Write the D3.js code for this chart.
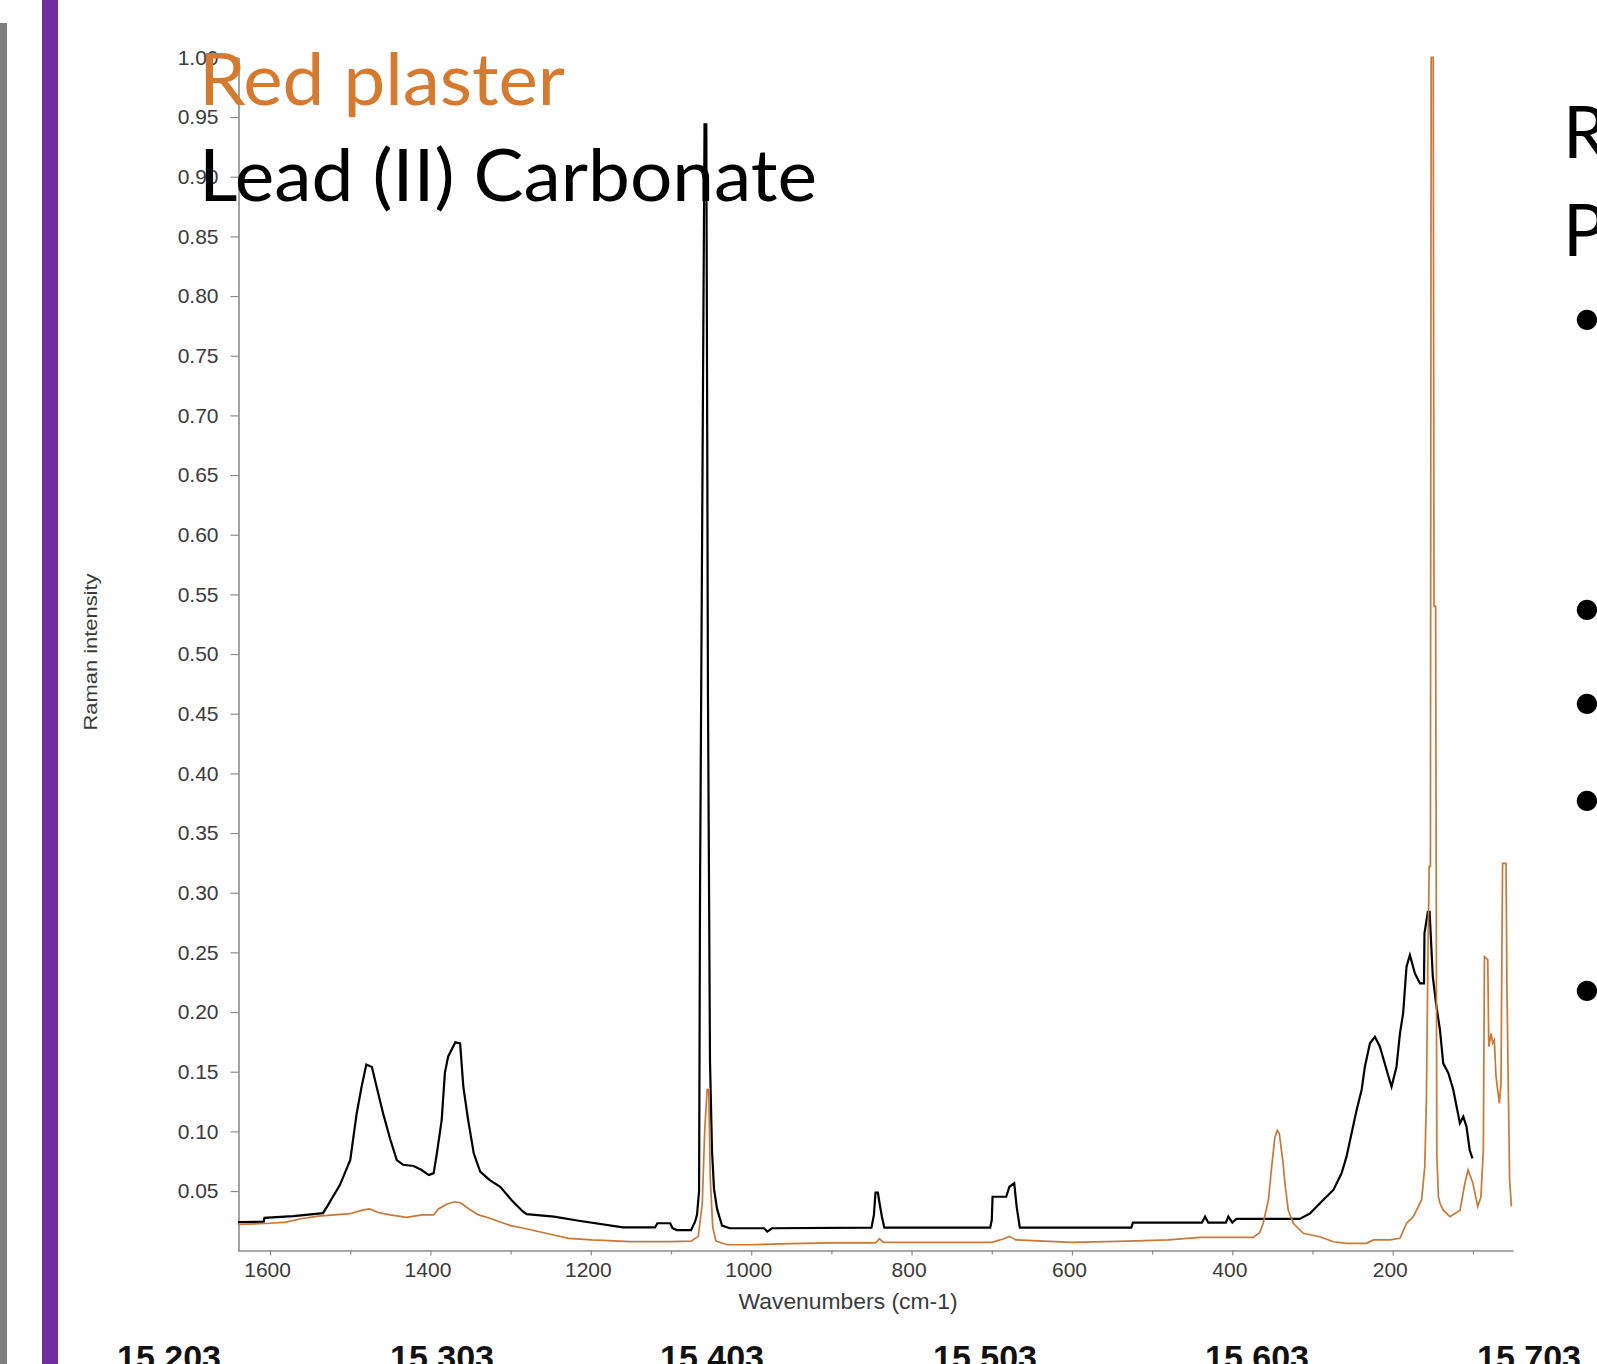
<!DOCTYPE html>
<html><head><meta charset="utf-8">
<script src="https://cdn.jsdelivr.net/npm/d3@7"></script>
<style>body{margin:0;background:#fff;overflow:hidden}svg{display:block}</style>
</head><body>
<svg id="c" width="1597" height="1364"></svg>
<script>
// ---- data ----
const leadW = [1640,1608,1607,1571,1534,1528,1513,1500,1492,1486,1480,1473,1467,1459,1450,1442,1434,1421,1411,1402,1396,1392,1386,1382,1378,1369,1363,1359,1353,1346,1338,1326,1313,1299,1284.5,1280,1246,1215,1160,1120,1117,1101,1098,1093,1075,1070,1067.6,1065,1063.8,1061,1058.2,1056,1053.9,1051.4,1048.9,1046.4,1042.6,1036.4,1027,984,980,974,850,847,845,842,840,837,834,702,700,699,682,678,672,669,665,526,524,438,434,430,408,405,400,395,316,303,299,286.7,274,263.8,257.6,251.3,245,238.8,234.7,228.4,222.2,216,207.6,201.5,195.3,191,187,182.8,178.6,172.4,166,161,160.4,156.2,154,150,146,141.1,137,130.6,124.4,120.3,116.2,112,108,104,100.6];
const leadI = [0.024,0.0243,0.0275,0.029,0.0315,0.038,0.055,0.076,0.115,0.137,0.156,0.154,0.137,0.115,0.093,0.076,0.072,0.071,0.0676,0.0634,0.065,0.0816,0.1095,0.149,0.1626,0.1746,0.1738,0.1374,0.1095,0.0816,0.0662,0.0592,0.0536,0.0425,0.0327,0.0307,0.0285,0.0251,0.0196,0.0196,0.023,0.023,0.0188,0.0173,0.0173,0.0243,0.03,0.05,0.305,0.624,0.944,0.944,0.463,0.159,0.084,0.052,0.035,0.021,0.0188,0.0188,0.016,0.0188,0.0193,0.03,0.0486,0.0486,0.040,0.0285,0.0193,0.0193,0.0257,0.0452,0.0452,0.0536,0.0565,0.0369,0.0193,0.0193,0.0235,0.0235,0.0285,0.0235,0.0235,0.0285,0.0235,0.0266,0.0266,0.0313,0.0341,0.0425,0.0509,0.0649,0.0788,0.0984,0.118,0.1347,0.1542,0.1738,0.1793,0.171,0.1514,0.1374,0.154,0.182,0.199,0.238,0.2478,0.2325,0.224,0.224,0.266,0.284,0.284,0.2296,0.2073,0.185,0.157,0.1487,0.1347,0.1207,0.1068,0.1123,0.104,0.0844,0.0774];
const plasterW = [1640,1600,1580,1560,1540,1520,1500,1485,1476,1465,1450,1430,1410,1396,1390,1380,1370,1362,1352,1340,1325,1313,1300,1285,1256,1228,1199,1150,1100,1075,1066,1061,1058,1055,1053,1051,1048,1044,1030,1000,950,900,845,840,835,760,700,685,678,670,600,530,480,440,374,366,361.5,355,351,347,344,341.4,337,334.4,330.3,324,311.6,290.8,274,257.6,232.6,224,203.5,191,182.7,174.4,164,160,158,156,154.5,153,152,149.5,148.5,146.5,145,143,141,137,128.6,116,110,106,100,94,90,87,85.6,81.5,80.2,77.3,75.3,73.3,71.2,67,65,63,58.7,57.5,54.2,52];
const plasterI = [0.022,0.023,0.024,0.027,0.029,0.030,0.031,0.034,0.035,0.032,0.030,0.028,0.030,0.030,0.035,0.039,0.041,0.040,0.035,0.030,0.027,0.024,0.021,0.019,0.0146,0.0104,0.009,0.0076,0.0076,0.008,0.012,0.04,0.10,0.135,0.135,0.06,0.02,0.008,0.005,0.005,0.006,0.0065,0.0065,0.010,0.007,0.007,0.007,0.010,0.012,0.009,0.007,0.008,0.009,0.0112,0.0112,0.015,0.023,0.0425,0.070,0.095,0.101,0.098,0.075,0.0565,0.034,0.023,0.0146,0.0117,0.0075,0.0062,0.0062,0.009,0.009,0.0104,0.023,0.0285,0.0425,0.0704,0.126,0.252,0.322,0.322,1.0,1.0,0.54,0.54,0.08,0.045,0.0397,0.034,0.0285,0.034,0.0565,0.0676,0.0565,0.037,0.045,0.0844,0.2464,0.244,0.171,0.182,0.174,0.1766,0.146,0.1235,0.14,0.3246,0.3246,0.2157,0.059,0.037];
const yTickValues = [0.05,0.10,0.15,0.20,0.25,0.30,0.35,0.40,0.45,0.50,0.55,0.60,0.65,0.70,0.75,0.80,0.85,0.90,0.95,1.00];
const xLabelTicks = [1600,1400,1200,1000,800,600,400,200];
const xMinorTicks = [1500,1300,1100,900,700,500,300,100];
const seriesNames = ["Red plaster","Lead (II) Carbonate"];
const seriesColors = ["#d67a30","#000000"];
const sideLetters = ["R","P"];
const bulletMarks = ["•","•","•","•","•"];
const footerLabels = ["15 203","15 303","15 403","15 503","15 603","15 703"];
const xTitle = "Wavenumbers (cm-1)";
const yTitle = "Raman intensity";

// ---- drawing ----
const svg = d3.select("#c");
svg.append("rect").attr("width",1597).attr("height",1364).attr("fill","#fff");
svg.append("rect").attr("x",0).attr("y",23).attr("width",7).attr("height",1341).attr("fill","#808080");
svg.append("rect").attr("x",42).attr("y",0).attr("width",16).attr("height",1364).attr("fill","#7030a0");

const x = d3.scaleLinear().domain([1640,50]).range([238,1513]);
const y = d3.scaleLinear().domain([0,1]).range([1250.7,57.4]);

const tickFont = "'Liberation Sans', Arial, sans-serif";
const gy = svg.append("g").attr("transform","translate(238.5,0)")
  .call(d3.axisLeft(y).tickValues(yTickValues).tickFormat(d3.format(".2f")).tickSize(8).tickSizeOuter(0).tickPadding(12));
const gx = svg.append("g").attr("transform","translate(0,1250.5)")
  .call(d3.axisBottom(x).tickValues(xLabelTicks).tickFormat(d3.format("d")).tickSize(5).tickSizeOuter(0).tickPadding(7));
const gm = svg.append("g").attr("transform","translate(0,1250.5)")
  .call(d3.axisBottom(x).tickValues(xMinorTicks).tickFormat("").tickSize(4).tickSizeOuter(0));
gm.select(".domain").remove();
[gy,gx,gm].forEach(g=>{
  g.select(".domain").attr("stroke","#8c8c8c").attr("stroke-width",1.6);
  g.selectAll(".tick line").attr("stroke","#8c8c8c").attr("stroke-width",1.2);
  g.selectAll(".tick text").attr("fill","#3a3a3a").style("font-family",tickFont).style("font-size","21px");
});
gx.selectAll(".tick text").attr("dx",-3);

svg.append("text").attr("x",848).attr("y",1309).attr("text-anchor","middle")
  .attr("textLength",219).attr("lengthAdjust","spacingAndGlyphs")
  .style("font-family",tickFont).style("font-size","22px").attr("fill","#3a3a3a").text(xTitle);
svg.append("text").attr("transform","translate(97,652) rotate(-90)").attr("text-anchor","middle")
  .attr("textLength",157).attr("lengthAdjust","spacingAndGlyphs")
  .style("font-family",tickFont).style("font-size","19px").attr("fill","#3a3a3a").text(yTitle);

// titles
const titleFont = "Lato, 'Open Sans', sans-serif";
const titleBase = [105,201], titleLen = [366,618];
seriesNames.forEach((s,i)=>{
  svg.append("text").attr("x",199).attr("y",titleBase[i]).attr("textLength",titleLen[i]).attr("lengthAdjust","spacingAndGlyphs")
    .style("font-family",titleFont).style("font-size","71px").attr("fill",seriesColors[i]).text(s);
});

// spectra
const line = d3.line().x(d=>x(d[0])).y(d=>y(d[1]));
const leadData = leadW.map((w,i)=>[w,leadI[i]]);
const plasterData = plasterW.map((w,i)=>[w,plasterI[i]]);
svg.append("path").datum(leadData).attr("d",line).attr("fill","none").attr("stroke","#000").attr("stroke-width",2.2).attr("stroke-linejoin","miter");
svg.append("path").datum(plasterData).attr("d",line).attr("fill","none").attr("stroke","#c97838").attr("stroke-width",1.7);

// right side text
const sideBase = [158,256];
sideLetters.forEach((s,i)=>{
  svg.append("text").attr("x",1563).attr("y",sideBase[i]).style("font-family",titleFont).style("font-size","71px").attr("fill","#000").text(s);
});
const bulletY = [319,609,703,800,990];
bulletMarks.forEach((b,i)=>{
  svg.append("text").attr("x",1571).attr("y",bulletY[i]+17).style("font-family",titleFont).style("font-size","55px").attr("fill","#000").text(b);
});

// footer
const footX = [117,390,660,933,1205,1477];
footerLabels.forEach((s,i)=>{
  svg.append("text").attr("x",footX[i]).attr("y",1369).style("font-family",tickFont).style("font-weight","bold").style("font-size","34px").attr("fill","#111").text(s);
});
</script>
</body></html>
